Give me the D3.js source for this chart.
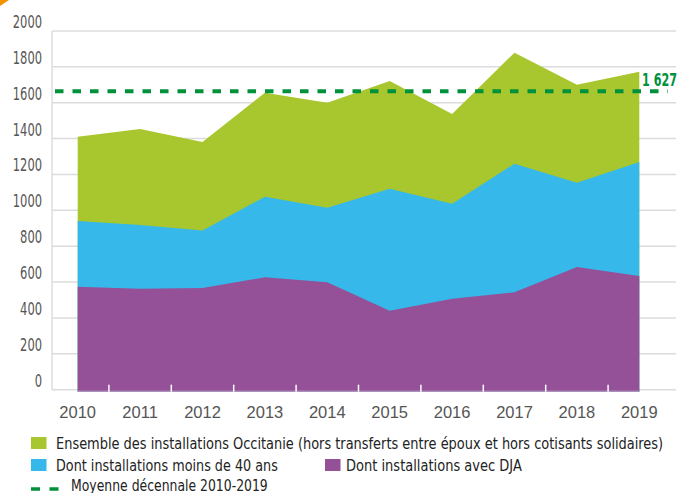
<!DOCTYPE html>
<html>
<head>
<meta charset="utf-8">
<script src="https://cdn.jsdelivr.net/npm/d3@7"></script>
<style>
  body { margin: 0; background: #fff; }
  svg { display: block; }
  text { font-family: "DejaVu Sans Condensed", "Liberation Sans", sans-serif; }
</style>
</head>
<body>
<div id="chart"></div>
<script>
// data
const years = ["2010", "2011", "2012", "2013", "2014", "2015", "2016", "2017", "2018", "2019"];
const totalOccitanie = [1411, 1454, 1381, 1656, 1600, 1721, 1537, 1879, 1701, 1773];
const moins40 = [941, 918, 887, 1076, 1015, 1121, 1037, 1260, 1154, 1270];
const avecDJA = [574, 563, 567, 627, 599, 440, 507, 543, 684, 634];
const moyenneLine = 1664;       // where the dashed line sits in the picture
const moyenneLabel = "1 627";
const yTicks = [0, 200, 400, 600, 800, 1000, 1200, 1400, 1600, 1800, 2000];

const series = [
  { name: "Ensemble des installations Occitanie (hors transferts entre époux et hors cotisants solidaires)", values: totalOccitanie, color: "#a8c62d" },
  { name: "Dont installations moins de 40 ans", values: moins40, color: "#36b9ea" },
  { name: "Dont installations avec DJA", values: avecDJA, color: "#955198" }
];

//**********************************************************************************************
//                                  CONSTANTS FOR CHART SIZE
//**********************************************************************************************
const WIDTH = 678, HEIGHT = 493;
const AXIS_X = 52;
const GRID_RIGHT = 676;
const DASH_GREEN = "#00913a";
const DIGIT_W = 7.3;   // condensed digits in the y labels

const svg = d3.select("#chart").append("svg")
  .attr("width", WIDTH)
  .attr("height", HEIGHT);

const x = d3.scalePoint().domain(years).range([77.7, 639.3]);
const y = d3.scaleLinear().domain([0, 2000]).range([389.7, 31]);

// squeeze a text horizontally to a given width (font is wider than the original one)
function squeeze(sel, x0, yc, w) {
  let n = sel.node();
  let k = w / n.getComputedTextLength();
  sel.attr("x", 0).attr("y", 0)
    .attr("transform", `translate(${x0},${yc}) scale(${k},1)`);
}

// little orange corner
svg.append("path")
  .attr("d", "M0,0 L9,0 L0,6 Z")
  .attr("fill", "#f39200");

// gridlines
svg.append("g").selectAll("line")
  .data(yTicks)
  .join("line")
  .attr("x1", AXIS_X).attr("x2", GRID_RIGHT)
  .attr("y1", d => y(d)).attr("y2", d => y(d))
  .attr("stroke", "#dcdcdc")
  .attr("stroke-width", 1.5);

svg.append("line")
  .attr("x1", AXIS_X).attr("x2", AXIS_X)
  .attr("y1", y(2000)).attr("y2", y(0))
  .attr("stroke", "#dcdcdc")
  .attr("stroke-width", 1.5);

// y tick labels, sit above their gridline
svg.append("g").selectAll("text")
  .data(yTicks)
  .join("text")
  .attr("x", 42)
  .attr("y", d => y(d) - 9)
  .attr("text-anchor", "end")
  .attr("dominant-baseline", "central")
  .attr("fill", "#555")
  .attr("textLength", d => String(d).length * DIGIT_W)
  .attr("lengthAdjust", "spacingAndGlyphs")
  .style("font-size", "17px")
  .text(d => d);

// overlaid areas (not stacked)
const area = d3.area()
  .x((d, i) => x(years[i]))
  .y0(y(0) + 2)
  .y1(d => y(d));

svg.append("g").selectAll("path")
  .data(series)
  .join("path")
  .attr("d", d => area(d.values))
  .attr("fill", d => d.color);

// bottom line of the area
svg.append("line")
  .attr("x1", x(years[0])).attr("x2", x(years[years.length - 1]))
  .attr("y1", y(0) + 1.5).attr("y2", y(0) + 1.5)
  .attr("stroke", "#b7a3c6")
  .attr("stroke-width", 1);

// white ticks between categories
const step = x.step();
svg.append("g").selectAll("line")
  .data(years.slice(1))
  .join("line")
  .attr("x1", d => x(d) - step / 2).attr("x2", d => x(d) - step / 2)
  .attr("y1", y(0) - 5).attr("y2", y(0) + 2)
  .attr("stroke", "#fff")
  .attr("stroke-width", 1.5);

// x labels
svg.append("g").selectAll("text")
  .data(years)
  .join("text")
  .attr("x", d => x(d))
  .attr("y", 412)
  .attr("text-anchor", "middle")
  .attr("dominant-baseline", "central")
  .attr("fill", "#555")
  .style("font-family", "'Liberation Sans', sans-serif")
  .style("font-size", "16.5px")
  .text(d => d);

// decennial average
svg.append("line")
  .attr("x1", 55).attr("x2", 668)
  .attr("y1", y(moyenneLine)).attr("y2", y(moyenneLine))
  .attr("stroke", DASH_GREEN)
  .attr("stroke-width", 4)
  .attr("stroke-dasharray", "8.5 9");

svg.append("text")
  .attr("dominant-baseline", "central")
  .attr("fill", DASH_GREEN)
  .attr("font-weight", 700)
  .style("font-size", "17px")
  .text(moyenneLabel)
  .call(squeeze, 642, y(moyenneLine) - 11, 35);

// legend
const legend = svg.append("g");
const legendPos = [[31, 443], [31, 465], [325, 465]];
const legendTextX = [25, 25, 21];
const legendTextW = [608, 222, 176];

series.forEach((s, i) => {
  let g = legend.append("g")
    .attr("transform", `translate(${legendPos[i][0]},${legendPos[i][1]})`);
  g.append("rect")
    .attr("x", 0).attr("y", -6)
    .attr("width", 15.5).attr("height", 12)
    .attr("fill", s.color);
  g.append("text")
    .attr("dominant-baseline", "central")
    .attr("fill", "#222")
    .style("font-size", "15px")
    .text(s.name)
    .call(squeeze, legendTextX[i], 0, legendTextW[i]);
});

let mg = legend.append("g").attr("transform", "translate(31,486)");
mg.append("line")
  .attr("x1", 0).attr("x2", 28)
  .attr("y1", 3).attr("y2", 3)
  .attr("stroke", DASH_GREEN)
  .attr("stroke-width", 3.5)
  .attr("stroke-dasharray", "9 9.5");
mg.append("text")
  .attr("dominant-baseline", "central")
  .attr("fill", "#222")
  .style("font-size", "15px")
  .text("Moyenne décennale 2010-2019")
  .call(squeeze, 40, 0, 197);
</script>
</body>
</html>
